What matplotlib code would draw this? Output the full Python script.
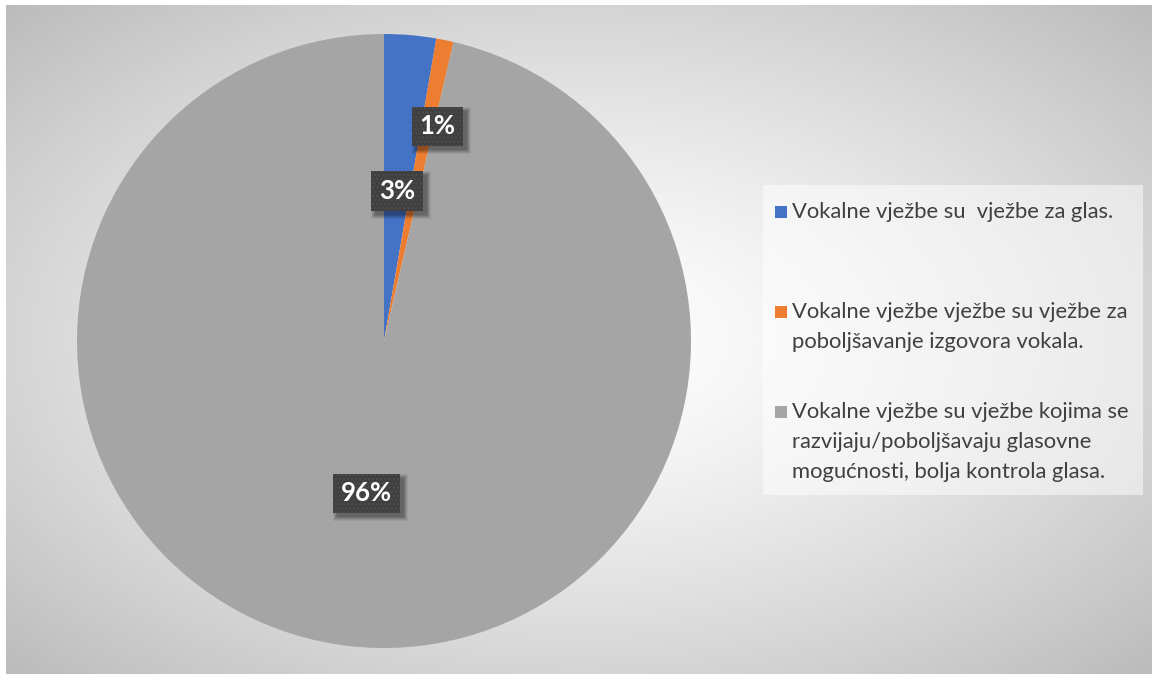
import numpy as np
import matplotlib
matplotlib.use("Agg")
import matplotlib.pyplot as plt
from matplotlib.patches import Rectangle

# ---- data ----
categories = [
    "Vokalne vježbe su  vježbe za glas.",
    "Vokalne vježbe vježbe su vježbe za\npoboljšavanje izgovora vokala.",
    "Vokalne vježbe su vježbe kojima se\nrazvijaju/poboljšavaju glasovne\nmogućnosti, bolja kontrola glasa.",
]
values = [3, 1, 106]
colors = ["#4472C4", "#ED7D31", "#A5A5A5"]
label_dist = [0.49, 0.72, 0.50]
label_angle_shift = [0.0, -2.5, 0.0]

W, H = 1152, 674
fig = plt.figure(figsize=(W / 100, H / 100), dpi=100)
fig.patch.set_facecolor("white")

# ---- background radial gradient ----
bg = fig.add_axes([6 / W, 0, (W - 6) / W, (H - 5) / H])
bg.set_axis_off()
yy, xx = np.mgrid[0:1:400j, 0:1:700j]
d = np.sqrt(((xx - 0.5) / 0.5) ** 2 + ((yy - 0.5) / 0.5) ** 2) / np.sqrt(2)
v = 255 - 68 * np.clip(d, 0, 1) ** 1.35
img = np.dstack([v, v, v]) / 255.0
bg.imshow(img, extent=[0, 1, 0, 1], aspect="auto", origin="lower", interpolation="bilinear")
bg.set_xlim(0, 1)
bg.set_ylim(0, 1)

# ---- pie ----
cx, cy, r = 384, H - 341, 307
ax = fig.add_axes([(cx - r) / W, (cy - r) / H, 2 * r / W, 2 * r / H])
ax.set_axis_off()
wedges, _ = ax.pie(values, colors=colors, startangle=90, counterclock=False,
                   radius=1.0, wedgeprops=dict(linewidth=0))
ax.set_xlim(-1, 1)
ax.set_ylim(-1, 1)

total = float(sum(values))
label_texts = []
for w, val, dist, shift in zip(wedges, values, label_dist, label_angle_shift):
    ang = np.deg2rad((w.theta1 + w.theta2) / 2 + shift)
    x, y = dist * np.cos(ang), dist * np.sin(ang)
    txt = f"{round(100 * val / total):d}%"
    t = ax.text(x, y, txt, ha="center", va="center", fontsize=18.5, fontweight="bold",
                family="Lato", color="white", zorder=5,
                bbox=dict(boxstyle="square,pad=0.3", facecolor="#404040",
                          edgecolor="#4d4d4d", linewidth=0, hatch="...."))
    label_texts.append(t)

# ---- soft shadows behind the labels ----
fig.canvas.draw()
renderer = fig.canvas.get_renderer()
for t in label_texts:
    bb = t.get_bbox_patch().get_window_extent(renderer)
    for k, a in [(1, 0.10), (2, 0.10), (3, 0.10), (4, 0.08), (5, 0.06)]:
        sh = Rectangle((bb.x0 + 4 - k + 1, bb.y0 - 4 - k + 1), bb.width + 2 * k - 2,
                       bb.height + 2 * k - 2, transform=None, facecolor="black",
                       alpha=a, linewidth=0, zorder=4)
        ax.add_artist(sh)

# ---- legend (manual) ----
leg_ax = fig.add_axes([0, 0, 1, 1], facecolor="none")
leg_ax.set_axis_off()
leg_ax.set_xlim(0, W)
leg_ax.set_ylim(H, 0)
leg_ax.add_patch(Rectangle((763, 185), 380, 310, facecolor="white", alpha=0.5,
                           linewidth=0))
entry_tops = [212, 312, 412]
line_h = 30
for cat, col, y0 in zip(categories, colors, entry_tops):
    leg_ax.add_patch(Rectangle((775, y0 - 6), 12, 12, facecolor=col, linewidth=0))
    for i, line in enumerate(cat.split("\n")):
        leg_ax.text(792, y0 + i * line_h, line, ha="left", va="center",
                    fontsize=15.8, family="Lato", color="#404040")

fig.savefig("out.png", dpi=100, facecolor=fig.get_facecolor())
